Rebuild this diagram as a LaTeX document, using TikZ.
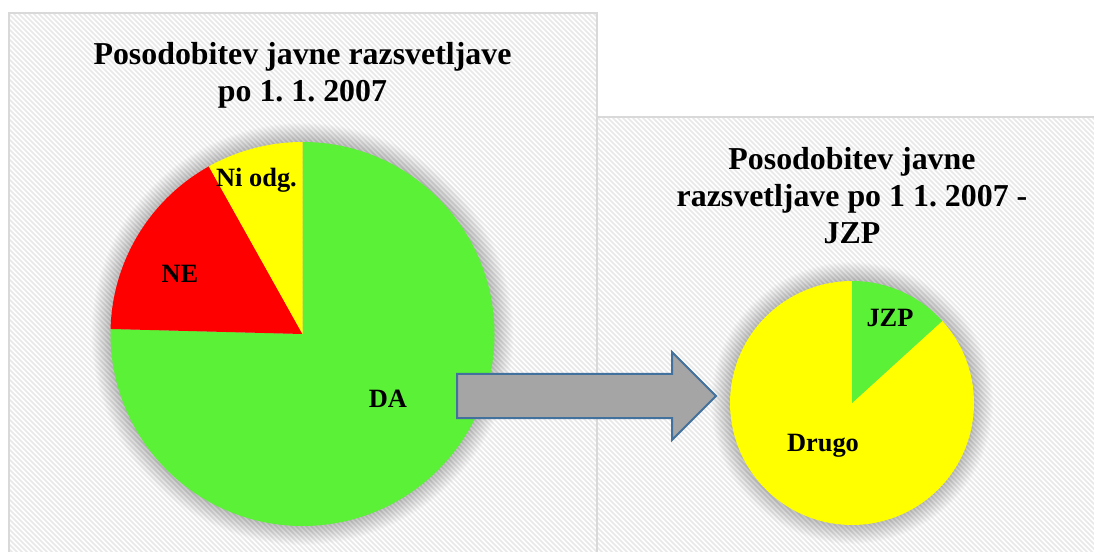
\documentclass[tikz,border=0pt]{standalone}
\usepackage{fontspec}
\setmainfont{Liberation Serif}
\frenchspacing
\definecolor{pieGreen}{HTML}{5BF136}
\definecolor{pieRed}{HTML}{FF0000}
\definecolor{pieYellow}{HTML}{FFFF00}
\definecolor{arrowFill}{HTML}{A5A5A5}
\definecolor{arrowLine}{HTML}{41719C}
\definecolor{frameGray}{HTML}{D9D9D9}

\begin{document}
\begin{tikzpicture}[x=1bp,y=-1bp,
    charttitle/.style={font=\fontsize{32}{37}\selectfont\bfseries, align=center, inner sep=0pt, anchor=north},
    slicelabel/.style={font=\fontsize{26.5}{30}\selectfont\bfseries, inner sep=0pt, anchor=base},
    panel/.style={draw=frameGray, line width=1.5bp}]
        \useasboundingbox (0,0) rectangle (1094,552);
        \fill[white] (0,0) rectangle (1094,552);
        % hatched chart areas
        \begin{scope}
            \clip (9,13) rectangle (597,560) (597,117) rectangle (1100,560);
            \foreach \s in {-560,-555,...,1100}
                \draw[black!9, line width=1.6bp] (\s,0) -- ++(600,600);
        \end{scope}
        \draw[panel] (9,13) rectangle (597,570);
        \draw[panel] (597,117) rectangle (1100,570);
        % left pie
        \coordinate (cA) at (302.5,334);
        \foreach \k in {1,...,20}
            \fill[black, opacity=0.012] (cA) circle (191+\k);
        \fill[pieGreen] (cA) -- ++(-90:192) arc[start angle=-90, end angle=181.5, radius=192] -- cycle;
        \fill[pieRed] (cA) -- ++(181.5:192) arc[start angle=181.5, end angle=240.8, radius=192] -- cycle;
        \fill[pieYellow] (cA) -- ++(240.8:192) arc[start angle=240.8, end angle=270, radius=192] -- cycle;
        \node[charttitle] (titleA) at (302.5,42) {Posodobitev javne razsvetljave\\po 1. 1. 2007};
        \node[slicelabel] (niodg) at (256.5,187) {Ni odg.};
        \node[slicelabel] (ne) at (180,283) {NE};
        \node[slicelabel] (da) at (388,407) {DA};
        % right pie
        \coordinate (cB) at (852,403);
        \foreach \k in {1,...,20}
            \fill[black, opacity=0.012] (cB) circle (121+\k);
        \fill[pieYellow] (cB) -- ++(317.7:122) arc[start angle=317.7, end angle=630, radius=122] -- cycle;
        \fill[pieGreen] (cB) -- ++(270:122) arc[start angle=270, end angle=317.7, radius=122] -- cycle;
        \node[charttitle] (titleB) at (852,147) {Posodobitev javne\\razsvetljave po 1 1. 2007 -\\JZP};
        \node[slicelabel] (jzp) at (890,327) {JZP};
        \node[slicelabel] (drugo) at (823,451) {Drugo};
        % block arrow
        \draw[arrowLine, fill=arrowFill, line width=2bp, line join=miter]
            (457,374) -- (672,374) -- (672,352) -- (716,396) -- (672,440) -- (672,418) -- (457,418) -- cycle;
\end{tikzpicture}
\end{document}
